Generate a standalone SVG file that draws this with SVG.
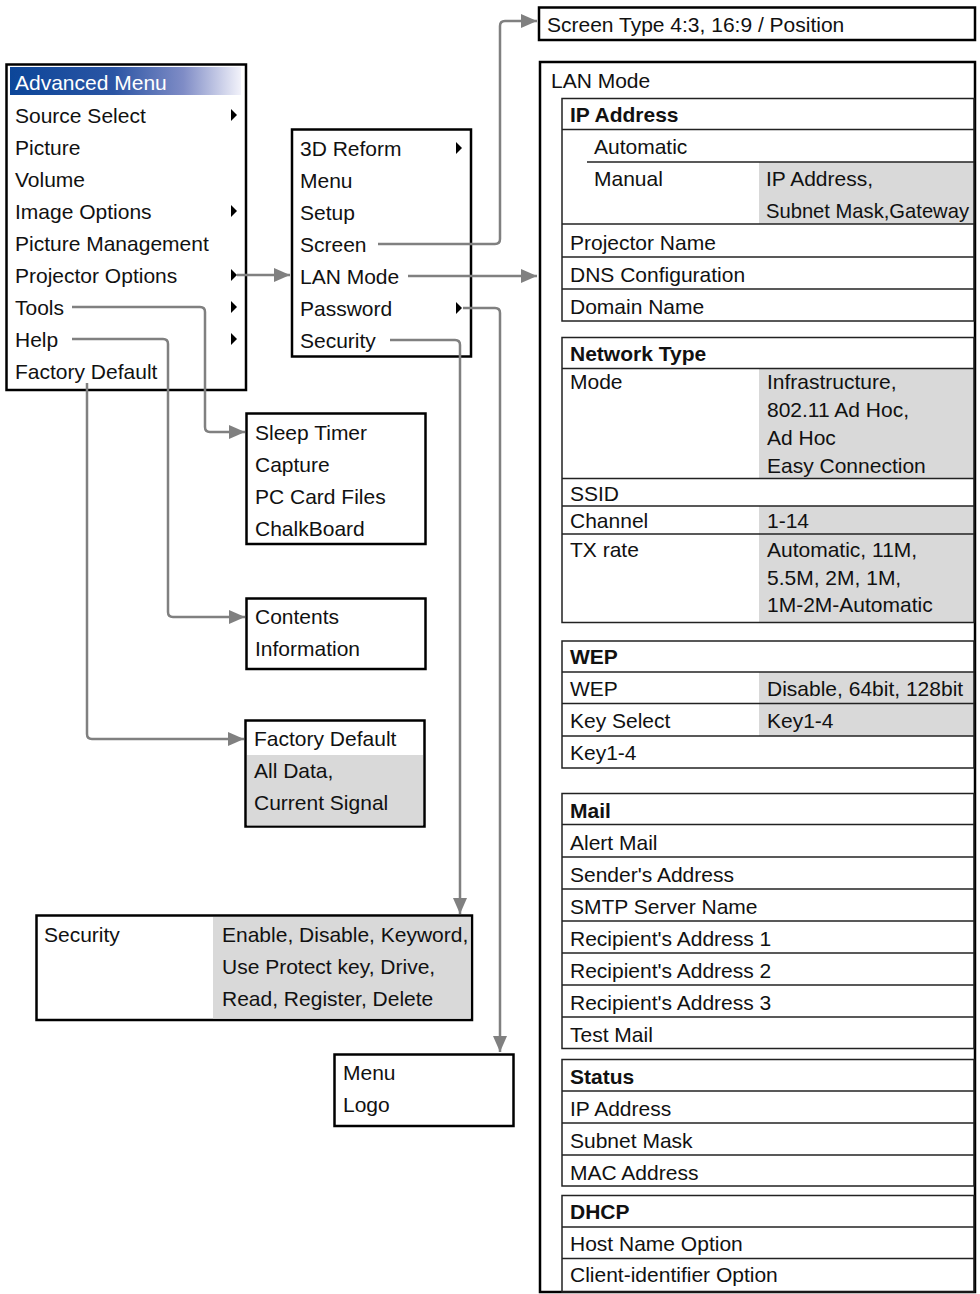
<svg xmlns="http://www.w3.org/2000/svg" width="980" height="1294" viewBox="0 0 980 1294">
<defs>
<linearGradient id="hdr" x1="0" y1="0" x2="1" y2="0">
<stop offset="0" stop-color="#0c4699"/>
<stop offset="0.45" stop-color="#2b55a4"/>
<stop offset="0.75" stop-color="#7f8cc6"/>
<stop offset="1" stop-color="#f2f2fa"/>
</linearGradient>
<marker id="arr" markerUnits="userSpaceOnUse" markerWidth="17" markerHeight="14" refX="16" refY="7" orient="auto">
<path d="M0,0 L16,7 L0,14 z" fill="#808080"/>
</marker>
</defs>
<style>
text{font-family:"Liberation Sans",Arial,Helvetica,sans-serif;font-size:21px;fill:#111}
.b{font-weight:bold}
.box{fill:#fff;stroke:#000;stroke-width:2.5}
.tbl{fill:none;stroke:#222;stroke-width:1.5}
.ln{stroke:#222;stroke-width:1.5}
.gray{fill:#d9d9d9}
.tri{fill:#000}
.con{fill:none;stroke:#808080;stroke-width:2.5;marker-end:url(#arr)}
</style>
<rect width="980" height="1294" fill="#fff"/>

<g id="advanced-menu">
<rect class="box" x="6.5" y="64.5" width="239.5" height="325.5"/>
<rect x="10" y="67" width="231" height="28" fill="url(#hdr)"/>
<text x="15" y="90" style="fill:#fff">Advanced Menu</text>
<text x="15" y="122.5">Source Select</text>
<text x="15" y="154.5">Picture</text>
<text x="15" y="186.5">Volume</text>
<text x="15" y="218.5">Image Options</text>
<text x="15" y="250.5">Picture Management</text>
<text x="15" y="282.5">Projector Options</text>
<text x="15" y="314.5">Tools</text>
<text x="15" y="346.5">Help</text>
<text x="15" y="378.5">Factory Default</text>
<path class="tri" d="M231,109 L237,115 L231,121 z"/>
<path class="tri" d="M231,205 L237,211 L231,217 z"/>
<path class="tri" d="M231,269 L237,275 L231,281 z"/>
<path class="tri" d="M231,301 L237,307 L231,313 z"/>
<path class="tri" d="M231,333 L237,339 L231,345 z"/>
</g>

<g id="projector-options">
<rect class="box" x="292" y="129.5" width="179" height="227"/>
<text x="300" y="155.5">3D Reform</text>
<text x="300" y="187.5">Menu</text>
<text x="300" y="219.5">Setup</text>
<text x="300" y="251.5">Screen</text>
<text x="300" y="283.5">LAN Mode</text>
<text x="300" y="315.5">Password</text>
<text x="300" y="347.5">Security</text>
<path class="tri" d="M456,142 L462,148 L456,154 z"/>
<path class="tri" d="M456,302 L462,308 L456,314 z"/>
</g>

<g id="tools-menu">
<rect class="box" x="246.5" y="413.5" width="179" height="130.5"/>
<text x="255" y="439.5">Sleep Timer</text>
<text x="255" y="471.5">Capture</text>
<text x="255" y="503.5">PC Card Files</text>
<text x="255" y="535.5">ChalkBoard</text>
</g>

<g id="help-menu">
<rect class="box" x="246.5" y="598.5" width="179" height="70.5"/>
<text x="255" y="623.5">Contents</text>
<text x="255" y="655.5">Information</text>
</g>

<g id="factory-default">
<rect class="box" x="245.5" y="720.5" width="179" height="106"/>
<rect class="gray" x="247" y="755" width="176" height="70.5"/>
<text x="254" y="745.5">Factory Default</text>
<text x="254" y="777.5">All Data,</text>
<text x="254" y="809.5">Current Signal</text>
</g>

<g id="security">
<rect class="box" x="36.5" y="915.5" width="435.5" height="104.5"/>
<rect class="gray" x="213" y="917" width="257.5" height="101.5"/>
<text x="44" y="941.5">Security</text>
<text x="222" y="941.5">Enable, Disable, Keyword,</text>
<text x="222" y="973.5">Use Protect key, Drive,</text>
<text x="222" y="1005.5">Read, Register, Delete</text>
</g>

<g id="password">
<rect class="box" x="334.5" y="1054.5" width="179" height="71.5"/>
<text x="343" y="1079.5">Menu</text>
<text x="343" y="1111.5">Logo</text>
</g>

<g id="screen-type">
<rect class="box" x="539" y="7.5" width="436" height="32.5"/>
<text x="547" y="31.5">Screen Type 4:3, 16:9 / Position</text>
</g>

<g id="lan-mode">
<rect class="box" x="540" y="62" width="435" height="1230"/>
<text x="551" y="87.5">LAN Mode</text>

<g id="ip-address">
<rect class="gray" x="759" y="162" width="214" height="62"/>
<rect class="tbl" x="562" y="98.5" width="412" height="222.5"/>
<line class="ln" x1="562" y1="129.5" x2="974" y2="129.5"/>
<line class="ln" x1="587" y1="162" x2="974" y2="162"/>
<line class="ln" x1="562" y1="224" x2="974" y2="224"/>
<line class="ln" x1="562" y1="257" x2="974" y2="257"/>
<line class="ln" x1="562" y1="289" x2="974" y2="289"/>
<text class="b" x="570" y="121.5">IP Address</text>
<text x="594" y="153.5">Automatic</text>
<text x="594" y="185.5">Manual</text>
<text x="766" y="185.5">IP Address,</text>
<text x="766" y="217.5" textLength="203" lengthAdjust="spacingAndGlyphs">Subnet Mask,Gateway</text>
<text x="570" y="249.5">Projector Name</text>
<text x="570" y="281.5">DNS Configuration</text>
<text x="570" y="313.5">Domain Name</text>
</g>

<g id="network-type">
<rect class="gray" x="759" y="368.5" width="214" height="110"/>
<rect class="gray" x="759" y="506" width="214" height="116.5"/>
<rect class="tbl" x="562" y="337.5" width="412" height="285"/>
<line class="ln" x1="562" y1="368.5" x2="974" y2="368.5"/>
<line class="ln" x1="562" y1="478.5" x2="974" y2="478.5"/>
<line class="ln" x1="562" y1="506" x2="974" y2="506"/>
<line class="ln" x1="562" y1="534" x2="974" y2="534"/>
<text class="b" x="570" y="360.5">Network Type</text>
<text x="570" y="388.5">Mode</text>
<text x="767" y="388.5">Infrastructure,</text>
<text x="767" y="416.5">802.11 Ad Hoc,</text>
<text x="767" y="444.5">Ad Hoc</text>
<text x="767" y="472.5">Easy Connection</text>
<text x="570" y="500.5">SSID</text>
<text x="570" y="528">Channel</text>
<text x="767" y="528">1-14</text>
<text x="570" y="556.5">TX rate</text>
<text x="767" y="556.5">Automatic, 11M,</text>
<text x="767" y="584.5">5.5M, 2M, 1M,</text>
<text x="767" y="612">1M-2M-Automatic</text>
</g>

<g id="wep">
<rect class="gray" x="759" y="672" width="214" height="64"/>
<rect class="tbl" x="562" y="641" width="412" height="127"/>
<line class="ln" x1="562" y1="672" x2="974" y2="672"/>
<line class="ln" x1="562" y1="703.5" x2="974" y2="703.5"/>
<line class="ln" x1="562" y1="736" x2="974" y2="736"/>
<text class="b" x="570" y="664">WEP</text>
<text x="570" y="696">WEP</text>
<text x="767" y="696">Disable, 64bit, 128bit</text>
<text x="570" y="728">Key Select</text>
<text x="767" y="728">Key1-4</text>
<text x="570" y="760">Key1-4</text>
</g>

<g id="mail">
<rect class="tbl" x="562" y="793.5" width="412" height="255"/>
<line class="ln" x1="562" y1="824.5" x2="974" y2="824.5"/>
<line class="ln" x1="562" y1="857" x2="974" y2="857"/>
<line class="ln" x1="562" y1="889" x2="974" y2="889"/>
<line class="ln" x1="562" y1="921" x2="974" y2="921"/>
<line class="ln" x1="562" y1="953" x2="974" y2="953"/>
<line class="ln" x1="562" y1="985" x2="974" y2="985"/>
<line class="ln" x1="562" y1="1017" x2="974" y2="1017"/>
<text class="b" x="570" y="817.5">Mail</text>
<text x="570" y="849.5">Alert Mail</text>
<text x="570" y="881.5">Sender's Address</text>
<text x="570" y="913.5">SMTP Server Name</text>
<text x="570" y="945.5">Recipient's Address 1</text>
<text x="570" y="977.5">Recipient's Address 2</text>
<text x="570" y="1009.5">Recipient's Address 3</text>
<text x="570" y="1041.5">Test Mail</text>
</g>

<g id="status">
<rect class="tbl" x="562" y="1059.5" width="412" height="126.5"/>
<line class="ln" x1="562" y1="1091" x2="974" y2="1091"/>
<line class="ln" x1="562" y1="1123" x2="974" y2="1123"/>
<line class="ln" x1="562" y1="1155" x2="974" y2="1155"/>
<text class="b" x="570" y="1083.5">Status</text>
<text x="570" y="1115.5">IP Address</text>
<text x="570" y="1147.5">Subnet Mask</text>
<text x="570" y="1179.5">MAC Address</text>
</g>

<g id="dhcp">
<rect class="tbl" x="562" y="1195.5" width="412" height="96.5"/>
<line class="ln" x1="562" y1="1227" x2="974" y2="1227"/>
<line class="ln" x1="562" y1="1258.5" x2="974" y2="1258.5"/>
<text class="b" x="570" y="1219">DHCP</text>
<text x="570" y="1251">Host Name Option</text>
<text x="570" y="1282">Client-identifier Option</text>
</g>
</g>

<g id="connectors">
<path class="con" d="M237,275 H290"/>
<path class="con" d="M378,244 H495 Q500,244 500,239 V26 Q500,21 505,21 H537"/>
<path class="con" d="M408,276 H537"/>
<path class="con" d="M463,308 H495 Q500,308 500,313 V1052"/>
<path class="con" d="M390,340 H455 Q460,340 460,345 V914"/>
<path class="con" d="M72,307 H200 Q205,307 205,312 V427 Q205,432 210,432 H245"/>
<path class="con" d="M72,339 H163 Q168,339 168,344 V612 Q168,617 173,617 H245"/>
<path class="con" d="M87,383 V734 Q87,739 92,739 H244"/>
</g>
</svg>
